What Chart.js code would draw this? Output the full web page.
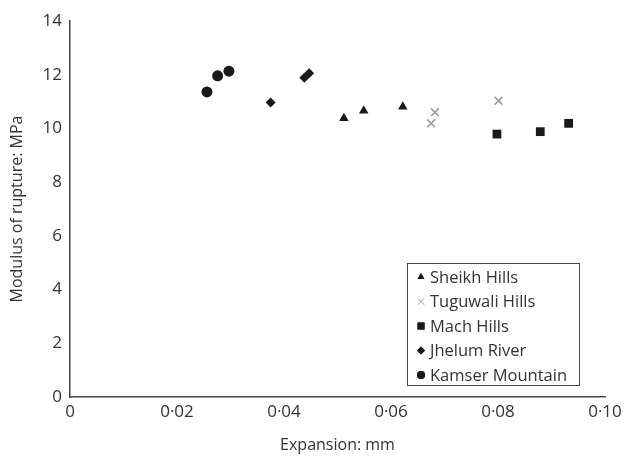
<!DOCTYPE html>
<html>
<head>
<meta charset="utf-8">
<script src="https://cdn.jsdelivr.net/npm/chart.js@4/dist/chart.umd.min.js"></script>
<style>
  html, body { margin: 0; padding: 0; background: #fff; }
  #wrap { width: 635px; height: 459px; }
</style>
</head>
<body>
<div id="wrap"><canvas id="chart" width="635" height="459"></canvas></div>
<script>
const FONT = "'Open Sans', 'Noto Sans', sans-serif"
const TEXT = '#333333'

// expansion (mm) / modulus of rupture (MPa)
const sheikhX = [0.0512, 0.0549, 0.0622]
const sheikhY = [10.38, 10.66, 10.81]
const tuguwaliX = [0.0675, 0.0682, 0.0801]
const tuguwaliY = [10.19, 10.60, 11.03]
const machX = [0.0798, 0.0879, 0.0932]
const machY = [9.79, 9.88, 10.19]
const jhelumX = [0.0375, 0.0438, 0.0447]
const jhelumY = [10.97, 11.89, 12.05]
const kamserX = [0.0256, 0.0276, 0.0297]
const kamserY = [11.36, 11.96, 12.13]

const xTicks = [0, 0.02, 0.04, 0.06, 0.08, 0.10]
const yTicks = [0, 2, 4, 6, 8, 10, 12, 14]

function toPoints(xs, ys) {
    return xs.map((x, i) => ({ x, y: ys[i] }))
}

const series = [
    { label: 'Sheikh Hills', data: toPoints(sheikhX, sheikhY), style: 'triangle', color: '#1a1a1a', radius: 5.5, legendRadius: 4, stroke: false },
    { label: 'Tuguwali Hills', data: toPoints(tuguwaliX, tuguwaliY), style: 'crossRot', color: '#9a9a9a', radius: 5.5, legendRadius: 4.5, stroke: true },
    { label: 'Mach Hills', data: toPoints(machX, machY), style: 'rect', color: '#1a1a1a', radius: 6.2, legendRadius: 5, stroke: false },
    { label: 'Jhelum River', data: toPoints(jhelumX, jhelumY), style: 'rectRot', color: '#1a1a1a', radius: 5, legendRadius: 4, stroke: false },
    { label: 'Kamser Mountain', data: toPoints(kamserX, kamserY), style: 'circle', color: '#1a1a1a', radius: 5.5, legendRadius: 4, stroke: false }
]

// legend box drawn inside the plot, bottom right
const boxLegend = {
    id: 'boxLegend',
    afterDraw(chart) {
        const ctx = chart.ctx
        const left = 407, top = 263, w = 172, h = 122
        ctx.save()
        ctx.strokeStyle = '#444'
        ctx.lineWidth = 1
        ctx.strokeRect(left + 0.5, top + 0.5, w, h)
        ctx.font = `16.5px ${FONT}`
        ctx.textBaseline = 'middle'
        series.forEach((s, i) => {
            const y = top + 14 + i * 24.5
            ctx.fillStyle = s.color
            ctx.strokeStyle = s.color
            Chart.helpers.drawPoint(ctx, {
                pointStyle: s.style,
                radius: s.legendRadius,
                rotation: 0,
                borderWidth: s.stroke ? 1.6 : 0
            }, left + 14, y)
            if (!s.stroke) ctx.fill()
            ctx.fillStyle = TEXT
            ctx.fillText(s.label, left + 23, y + 1)
        })
        ctx.restore()
    }
}

new Chart(document.getElementById('chart'), {
    type: 'scatter',
    data: {
        datasets: series.map(s => ({
            label: s.label,
            data: s.data,
            pointStyle: s.style,
            pointRadius: s.radius,
            pointHoverRadius: s.radius,
            backgroundColor: s.color,
            borderColor: s.color,
            pointBorderWidth: s.stroke ? 1.6 : 0
        }))
    },
    options: {
        responsive: false,
        animation: false,
        layout: { padding: { top: 21, right: 30, left: 0, bottom: 0 } },
        plugins: {
            legend: { display: false },
            tooltip: { enabled: false }
        },
        scales: {
            x: {
                type: 'linear',
                min: 0,
                max: 0.10,
                afterBuildTicks: axis => { axis.ticks = xTicks.map(v => ({ value: v })) },
                afterFit: axis => { axis.height = 62 },
                grid: { display: false, drawTicks: false },
                border: { display: true, color: '#444', width: 1.5 },
                ticks: {
                    color: TEXT,
                    font: { family: FONT, size: 17 },
                    padding: 5,
                    maxRotation: 0,
                    callback: v => v === 0 ? '0' : Number(v).toFixed(2).replace('.', '·')
                },
                title: {
                    display: true,
                    text: 'Expansion: mm',
                    color: TEXT,
                    font: { family: FONT, size: 16 },
                    padding: { top: 8 }
                }
            },
            y: {
                min: 0,
                max: 14,
                afterBuildTicks: axis => { axis.ticks = yTicks.map(v => ({ value: v })) },
                afterFit: axis => { axis.width = 70 },
                grid: { display: false, drawTicks: false },
                border: { display: true, color: '#444', width: 1.5 },
                ticks: {
                    color: TEXT,
                    font: { family: FONT, size: 17 },
                    padding: 8
                },
                title: {
                    display: true,
                    text: 'Modulus of rupture: MPa',
                    color: TEXT,
                    font: { family: FONT, size: 16 },
                    padding: { top: 8, bottom: 0 }
                }
            }
        }
    },
    plugins: [boxLegend]
})
</script>
</body>
</html>
